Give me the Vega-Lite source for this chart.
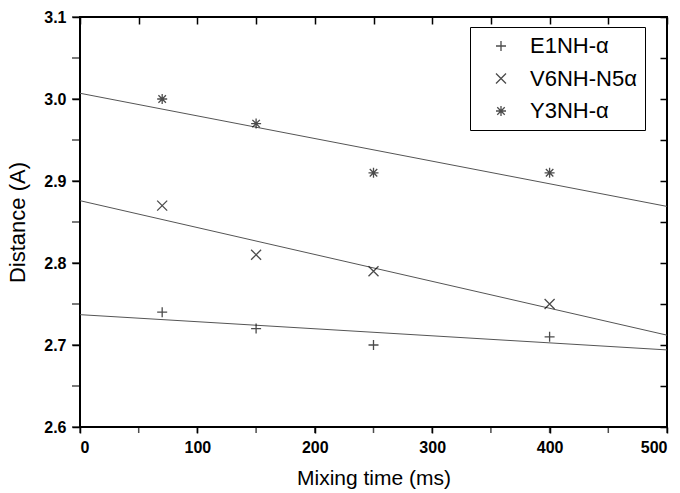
{
  "$schema": "https://vega.github.io/schema/vega-lite/v6.json",
  "width": 587,
  "height": 410,
  "autosize": "none",
  "padding": {"left": 80, "top": 17, "right": 13, "bottom": 66},
  "config": {
    "font": "Liberation Sans",
    "view": {"stroke": "black", "strokeWidth": 2},
    "axis": {"grid": false, "labelColor": "black", "titleColor": "black", "domain": false}
  },
  "datasets": {
    "fits": [
      {"series": "E1NH-α", "time": 0, "dist": 2.737},
      {"series": "E1NH-α", "time": 500, "dist": 2.694},
      {"series": "V6NH-N5α", "time": 0, "dist": 2.876},
      {"series": "V6NH-N5α", "time": 500, "dist": 2.712},
      {"series": "Y3NH-α", "time": 0, "dist": 3.007},
      {"series": "Y3NH-α", "time": 500, "dist": 2.869}
    ],
    "points": [
      {"series": "E1NH-α", "time": 70, "dist": 2.74},
      {"series": "E1NH-α", "time": 150, "dist": 2.72},
      {"series": "E1NH-α", "time": 250, "dist": 2.70},
      {"series": "E1NH-α", "time": 400, "dist": 2.71},
      {"series": "V6NH-N5α", "time": 70, "dist": 2.87},
      {"series": "V6NH-N5α", "time": 150, "dist": 2.81},
      {"series": "V6NH-N5α", "time": 250, "dist": 2.79},
      {"series": "V6NH-N5α", "time": 400, "dist": 2.75},
      {"series": "Y3NH-α", "time": 70, "dist": 3.00},
      {"series": "Y3NH-α", "time": 150, "dist": 2.97},
      {"series": "Y3NH-α", "time": 250, "dist": 2.91},
      {"series": "Y3NH-α", "time": 400, "dist": 2.91}
    ],
    "xticks": [{"t": 0}, {"t": 50}, {"t": 100}, {"t": 150}, {"t": 200}, {"t": 250}, {"t": 300}, {"t": 350}, {"t": 400}, {"t": 450}, {"t": 500}],
    "yticks": [{"t": 2.6}, {"t": 2.65}, {"t": 2.7}, {"t": 2.75}, {"t": 2.8}, {"t": 2.85}, {"t": 2.9}, {"t": 2.95}, {"t": 3.0}, {"t": 3.05}, {"t": 3.1}]
  },
  "layer": [
    {
      "data": {"name": "fits"},
      "mark": {"type": "line", "color": "#555555", "strokeWidth": 1},
      "encoding": {
        "x": {"field": "time", "type": "quantitative", "scale": {"domain": [0, 500], "nice": false},
          "axis": {"orient": "top", "values": [0, 50, 100, 150, 200, 250, 300, 350, 400, 450, 500], "offset": -7, "tickColor": "black", "tickSize": 7, "tickWidth": 1.5, "labels": false, "title": null}},
        "y": {"field": "dist", "type": "quantitative", "scale": {"domain": [2.6, 3.1], "nice": false, "zero": false},
          "axis": {"orient": "right", "values": [2.6, 2.65, 2.7, 2.75, 2.8, 2.85, 2.9, 2.95, 3.0, 3.05, 3.1], "offset": -7, "tickColor": "black", "tickSize": 7, "tickWidth": 1.5, "labels": false, "title": null}},
        "detail": {"field": "series"}
      }
    },
    {
      "data": {"name": "points"},
      "mark": {"type": "point", "filled": false, "color": "black"},
      "encoding": {
        "x": {"field": "time", "type": "quantitative",
          "axis": {"orient": "bottom", "values": [0, 100, 200, 300, 400, 500],
            "tickColor": "black", "tickSize": 6, "tickWidth": 1.5,
            "labelFontSize": 16, "labelFontWeight": "bold", "labelPadding": 6,
            "title": "Mixing time (ms)", "titleFontSize": 21, "titleFontWeight": "normal", "titlePadding": 12}},
        "y": {"field": "dist", "type": "quantitative",
          "axis": {"orient": "left", "values": [2.6, 2.7, 2.8, 2.9, 3.0, 3.1], "format": ".1f",
            "tickColor": "black", "tickSize": 8, "tickWidth": 1.5,
            "labelFontSize": 16, "labelFontWeight": "bold", "labelPadding": 6,
            "title": "Distance (A)", "titleFontSize": 22, "titleFontWeight": "normal", "titlePadding": 14}},
        "shape": {"field": "series", "type": "nominal",
          "scale": {"domain": ["E1NH-α", "V6NH-N5α", "Y3NH-α"],
            "range": ["M-1,0L1,0M0,-1L0,1", "M-1,-1L1,1M-1,1L1,-1", "M-1,0L1,0M0,-1L0,1M-0.75,-0.75L0.75,0.75M-0.75,0.75L0.75,-0.75"]},
          "legend": {"orient": "none", "legendX": 390, "legendY": 10, "title": null,
            "strokeColor": "black", "fillColor": "white", "padding": 8,
            "symbolOffset": 12, "symbolSize": 100, "symbolStrokeColor": "black", "symbolStrokeWidth": 1.2, "symbolFillColor": "transparent",
            "labelFontSize": 22, "labelOffset": 18, "rowPadding": 10.5, "labelColor": "black"}},
        "strokeWidth": {"field": "series", "type": "nominal",
          "scale": {"domain": ["E1NH-α", "V6NH-N5α", "Y3NH-α"], "range": [1.3, 1.3, 2]}, "legend": null},
        "size": {"value": 100}
      }
    },
    {
      "data": {"name": "xticks"},
      "mark": {"type": "tick", "orient": "vertical", "color": "black", "size": 6, "thickness": 1.5, "yOffset": 3, "clip": false},
      "encoding": {
        "x": {"field": "t", "type": "quantitative", "axis": null},
        "y": {"datum": 2.6, "type": "quantitative", "axis": null}
      }
    },
    {
      "data": {"name": "yticks"},
      "mark": {"type": "tick", "orient": "horizontal", "color": "black", "size": 8, "thickness": 1.5, "xOffset": -4, "clip": false},
      "encoding": {
        "y": {"field": "t", "type": "quantitative", "axis": null},
        "x": {"datum": 0, "type": "quantitative", "axis": null}
      }
    }
  ],
  "resolve": {"axis": {"x": "independent", "y": "independent"}}
}
